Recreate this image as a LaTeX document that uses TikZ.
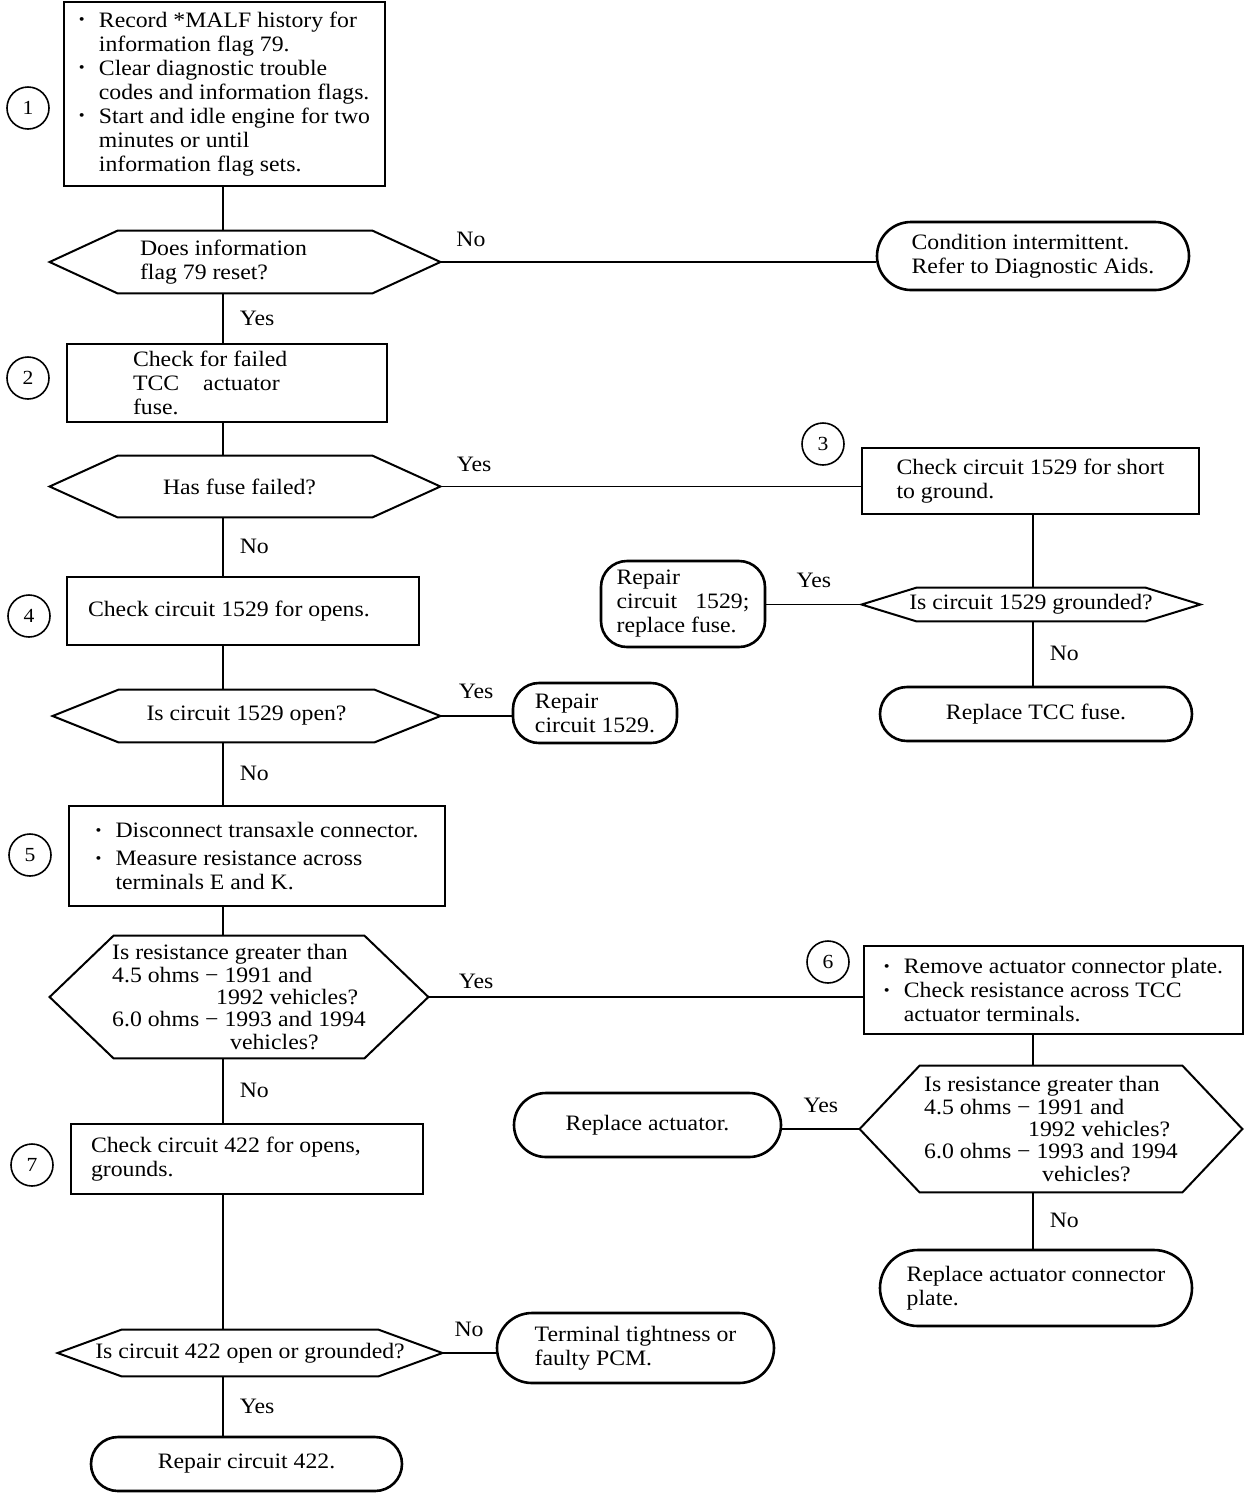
\documentclass[tikz,border=0pt]{standalone}
\usepackage{fontspec}
\setmainfont{Liberation Serif}[FakeStretch=1.08]
\usetikzlibrary{shapes.misc}

\tikzset{
  txt/.style={font=\fontsize{11}{12}\selectfont, align=flush left},
  process/.style={txt, draw, line width=1.1pt, inner sep=2pt},
  decision/.style={txt, inner sep=1pt},
  tightlines/.style={font=\fontsize{11}{11.2}\selectfont},
  stopbox/.style={txt, draw, line width=1.3pt, rounded rectangle, inner sep=2pt},
  repairbox/.style={txt, draw, line width=1.3pt, rounded corners=13pt, inner sep=2pt},
  stepno/.style={draw, circle, line width=0.8pt, minimum size=21pt, inner sep=0pt, font=\fontsize{10}{12}\selectfont},
  hexline/.style={line width=1pt},
  flow/.style={line width=0.8pt},
  answer/.style={font=\fontsize{11}{12}\selectfont, inner sep=1pt},
}
\newcommand{\bul}{\makebox[10pt][l]{\raisebox{1.2pt}{\scalebox{0.7}{\textbullet}}}}
\newcommand{\ind}{\hspace*{10pt}}
% hexagon outline round a decision node: name, depth of the points
\newcommand{\hexbox}[2]{%
  \draw[hexline] (#1.west) -- ([xshift=#2]#1.north west) -- ([xshift=-#2]#1.north east)
    -- (#1.east) -- ([xshift=-#2]#1.south east) -- ([xshift=#2]#1.south west) -- cycle;}

\begin{document}
\begin{tikzpicture}[x=0.5pt, y=-0.5pt]
\useasboundingbox (0,0) rectangle (1248,1496);

% left column
\node[process, minimum width=160.5pt, minimum height=92pt] (s1) at (224.5,94)
  {\bul Record *MALF history for\\\ind information flag 79.\\
   \bul Clear diagnostic trouble\\\ind codes and information flags.\\
   \bul Start and idle engine for two\\\ind minutes or until\\\ind information flag sets.};
\node[decision, minimum width=195pt, minimum height=31pt, text width=105pt] (q1) at (245,262)
  {Does information\\flag 79 reset?};
\node[process, minimum width=160pt, minimum height=39pt, text width=94pt] (s2) at (227,383)
  {Check for failed\\TCC\hspace{12pt}actuator\\fuse.};
\node[decision, minimum width=195pt, minimum height=30.5pt, text width=82pt] (q2) at (245,486.5)
  {Has fuse failed?};
\node[process, minimum width=176pt, minimum height=34pt, text width=155pt] (s4) at (243,611)
  {Check circuit 1529 for opens.};
\node[decision, minimum width=193.5pt, minimum height=26pt] (q4) at (246.5,716)
  {Is circuit 1529 open?};
\node[process, minimum width=188pt, minimum height=50pt] (s5) at (257,856)
  {\bul Disconnect transaxle connector.\\[2pt]
   \bul Measure resistance across\\\ind terminals E and K.};
\node[decision, tightlines, minimum width=189pt, minimum height=61pt] (q5) at (239,997)
  {Is resistance greater than\\4.5 ohms − 1991 and\\\hspace*{52pt}1992 vehicles?\\
   6.0 ohms − 1993 and 1994\\\hspace*{59pt}vehicles?};
\node[process, minimum width=176pt, minimum height=35pt, text width=156pt] (s7) at (247,1159)
  {Check circuit 422 for opens,\\grounds.};
\node[decision, minimum width=192pt, minimum height=23pt] (q7) at (250,1353)
  {Is circuit 422 open or grounded?};
\node[stopbox, minimum width=159.5pt, minimum height=27pt] (e8) at (246.5,1464)
  {Repair circuit 422.};

% right side
\node[stopbox, minimum width=160pt, minimum height=34pt] (e1) at (1033,256)
  {Condition intermittent.\\Refer to Diagnostic Aids.};
\node[process, minimum width=168.5pt, minimum height=33pt] (s3) at (1030.5,481)
  {Check circuit 1529 for short\\to ground.};
\node[decision, minimum width=169pt, minimum height=16.5pt] (q3) at (1031,604.5)
  {Is circuit 1529 grounded?};
\node[repairbox, minimum width=82pt, minimum height=43pt] (e2) at (683,604)
  {Repair\\circuit\hspace{9pt}1529;\\replace fuse.};
\node[stopbox, minimum width=160pt, minimum height=27pt] (e3) at (1036,714)
  {Replace TCC fuse.};
\node[repairbox, minimum width=82pt, minimum height=30pt] (e4) at (595,713)
  {Repair\\circuit 1529.};
\node[process, minimum width=189.5pt, minimum height=44pt] (s6) at (1053.5,990)
  {\bul Remove actuator connector plate.\\
   \bul Check resistance across TCC\\\ind actuator terminals.};
\node[decision, tightlines, minimum width=191pt, minimum height=63pt] (q6) at (1051,1129)
  {Is resistance greater than\\4.5 ohms − 1991 and\\\hspace*{52pt}1992 vehicles?\\
   6.0 ohms − 1993 and 1994\\\hspace*{59pt}vehicles?};
\node[stopbox, minimum width=137.5pt, minimum height=32pt] (e5) at (647.5,1125)
  {Replace actuator.};
\node[stopbox, minimum width=160pt, minimum height=38pt] (e6) at (1036,1288)
  {Replace actuator connector\\plate.};
\node[stopbox, minimum width=142.5pt, minimum height=35pt] (e7) at (635.5,1348)
  {Terminal tightness or\\faulty PCM.};

% hexagons
\hexbox{q1}{34pt}
\hexbox{q2}{34pt}
\hexbox{q3}{27.5pt}
\hexbox{q4}{33pt}
\hexbox{q5}{32pt}
\hexbox{q6}{30pt}
\hexbox{q7}{32pt}

% step numbers
\node[stepno] (n1) at (28,108) {1};
\node[stepno] (n2) at (28,378) {2};
\node[stepno] (n3) at (823,444) {3};
\node[stepno] (n4) at (29,616) {4};
\node[stepno] (n5) at (30,855) {5};
\node[stepno] (n6) at (828,962) {6};
\node[stepno] (n7) at (32,1165) {7};

% connectors
\coordinate (spine) at (223,0);
\coordinate (rspine) at (1033,0);
\draw[flow] (s1.south -| spine) -- (q1.north -| spine);
\draw[flow] (q1.south -| spine) -- (s2.north -| spine) node[answer, midway, right=7pt] {Yes};
\draw[flow] (q1.east) -- (q1.east -| e1.west) node[answer, pos=0.07, above=6pt] {No};
\draw[flow] (s2.south -| spine) -- (q2.north -| spine);
\draw[flow] (q2.east) -- (q2.east -| s3.west) node[answer, pos=0.08, above=6pt] {Yes};
\draw[flow] (q2.south -| spine) -- (s4.north -| spine) node[answer, midway, right=7pt] {No};
\draw[flow] (s3.south -| rspine) -- (q3.north -| rspine);
\draw[flow] (q3.west) -- (q3.west -| e2.east) node[answer, midway, above=7pt] {Yes};
\draw[flow] (q3.south -| rspine) -- (e3.north -| rspine) node[answer, midway, right=7pt] {No};
\draw[flow] (s4.south -| spine) -- (q4.north -| spine);
\draw[flow] (q4.east) -- (q4.east -| e4.west) node[answer, midway, above=7pt] {Yes};
\draw[flow] (q4.south -| spine) -- (s5.north -| spine) node[answer, midway, right=7pt] {No};
\draw[flow] (s5.south -| spine) -- (q5.north -| spine);
\draw[flow] (q5.east) -- (q5.east -| s6.west) node[answer, pos=0.11, above=3pt] {Yes};
\draw[flow] (q5.south -| spine) -- (s7.north -| spine) node[answer, midway, right=7pt] {No};
\draw[flow] (s6.south -| rspine) -- (q6.north -| rspine);
\draw[flow] (q6.west) -- (q6.west -| e5.east) node[answer, midway, above=7pt] {Yes};
\draw[flow] (q6.south -| rspine) -- (e6.north -| rspine) node[answer, midway, right=7pt] {No};
\draw[flow] (s7.south -| spine) -- (q7.north -| spine);
\draw[flow] (q7.east) -- (q7.east -| e7.west) node[answer, midway, above=7pt] {No};
\draw[flow] (q7.south -| spine) -- (e8.north -| spine) node[answer, midway, right=7pt] {Yes};
\end{tikzpicture}
\end{document}
